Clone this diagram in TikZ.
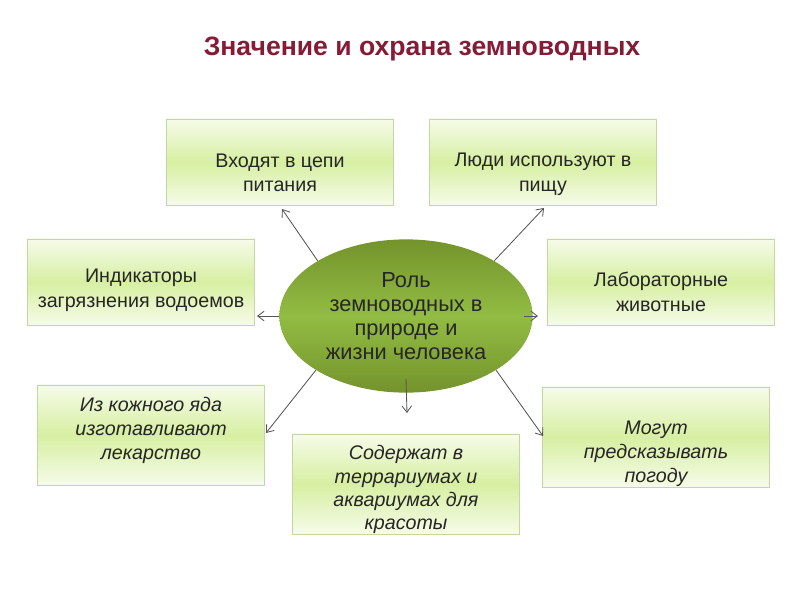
\documentclass[tikz,border=0pt]{standalone}
\usepackage{fontspec}
\setmainfont{Liberation Sans}
\usetikzlibrary{arrows.meta,shapes.geometric}
\definecolor{titlered}{HTML}{861B36}
\definecolor{boxtop}{HTML}{F6FBE9}
\definecolor{boxmid}{HTML}{D7EFA2}
\definecolor{boxline}{HTML}{C4D6A4}
\definecolor{rolelight}{HTML}{92BC43}
\definecolor{roledark}{HTML}{74932C}
\definecolor{arrowgray}{HTML}{555555}
% invisible struts: on the first line push the text down, on the last line lift it
\newcommand{\lowerby}[1]{\rule{0pt}{#1}}
\newcommand{\liftby}[1]{\rule[-#1]{0pt}{#1}}

\begin{document}
\begin{tikzpicture}[x=0.025cm,y=-0.025cm,
 box/.style={draw=boxline,top color=boxtop,bottom color=boxtop,middle color=boxmid,
   align=center,minimum width=5.675cm,minimum height=2.15cm,inner sep=2pt,
   font=\fontsize{14}{17.5}\selectfont,text=black!85},
 tallbox/.style={box,minimum height=2.5cm,inner ysep=0pt,
   font=\fontsize{14}{17}\selectfont\itshape},
 arr/.style={-{Straight Barb[length=1.6mm,width=2.4mm]},line width=0.6pt,color=arrowgray}]
 \useasboundingbox (0,0) rectangle (800,600);
 \node[font=\fontsize{18.9}{22}\selectfont\bfseries,text=titlered] (title) at (422,49)
   {Значение и охрана земноводных};
 \node[ellipse,minimum width=6.33cm,minimum height=3.83cm,inner sep=0pt,
   top color=roledark,bottom color=roledark,middle color=rolelight,align=center,
   font=\fontsize{15.5}{17}\selectfont,text=black!85] (role) at (406,316)
   {Роль\\земноводных в\\природе и\\жизни человека};
 \node[box] (food) at (280,162) {\lowerby{25pt}Входят в цепи\\питания};
 \node[box] (people) at (543,162) {\lowerby{27pt}Люди используют в\\пищу};
 \node[box] (indicators) at (141,282) {\lowerby{21pt}Индикаторы\\загрязнения водоемов};
 \node[box] (lab) at (661,282) {\lowerby{24pt}Лабораторные\\животные};
 \node[tallbox] (medicine) at (151,435)
   {Из кожного яда\\изготавливают\\лекарство\liftby{10pt}};
 \node[tallbox,font=\fontsize{14}{16.5}\selectfont\itshape] (terrarium) at (406,484)
   {\lowerby{18pt}Содержат в\\террариумах и\\аквариумах для\\красоты};
 \node[tallbox] (weather) at (656,437) {\lowerby{34pt}Могут\\предсказывать\\погоду};
 % arrow tips stop short of the boxes
 \coordinate (tipfood) at (282,209);
 \coordinate (tippeople) at (544,208);
 \coordinate (tipind) at (257,316);
 \coordinate (tiplab) at (538,316);
 \coordinate (tipterr) at (407,413);
 \coordinate (tipmed) at (266,433);
 \coordinate (tipweather) at (543,436);
 \draw[arr] (role.148) -- (tipfood);
 \draw[arr] (role.32) -- (tippeople);
 \draw[arr] (role.west) -- (tipind);
 \draw[arr] ([xshift=-9*0.025cm]role.east) -- (tiplab);
 \draw[arr] ([yshift=14*0.025cm]role.south) -- (tipterr);
 \draw[arr] (role.211) -- (tipmed);
 \draw[arr] (role.329) -- (tipweather);
\end{tikzpicture}
\end{document}
